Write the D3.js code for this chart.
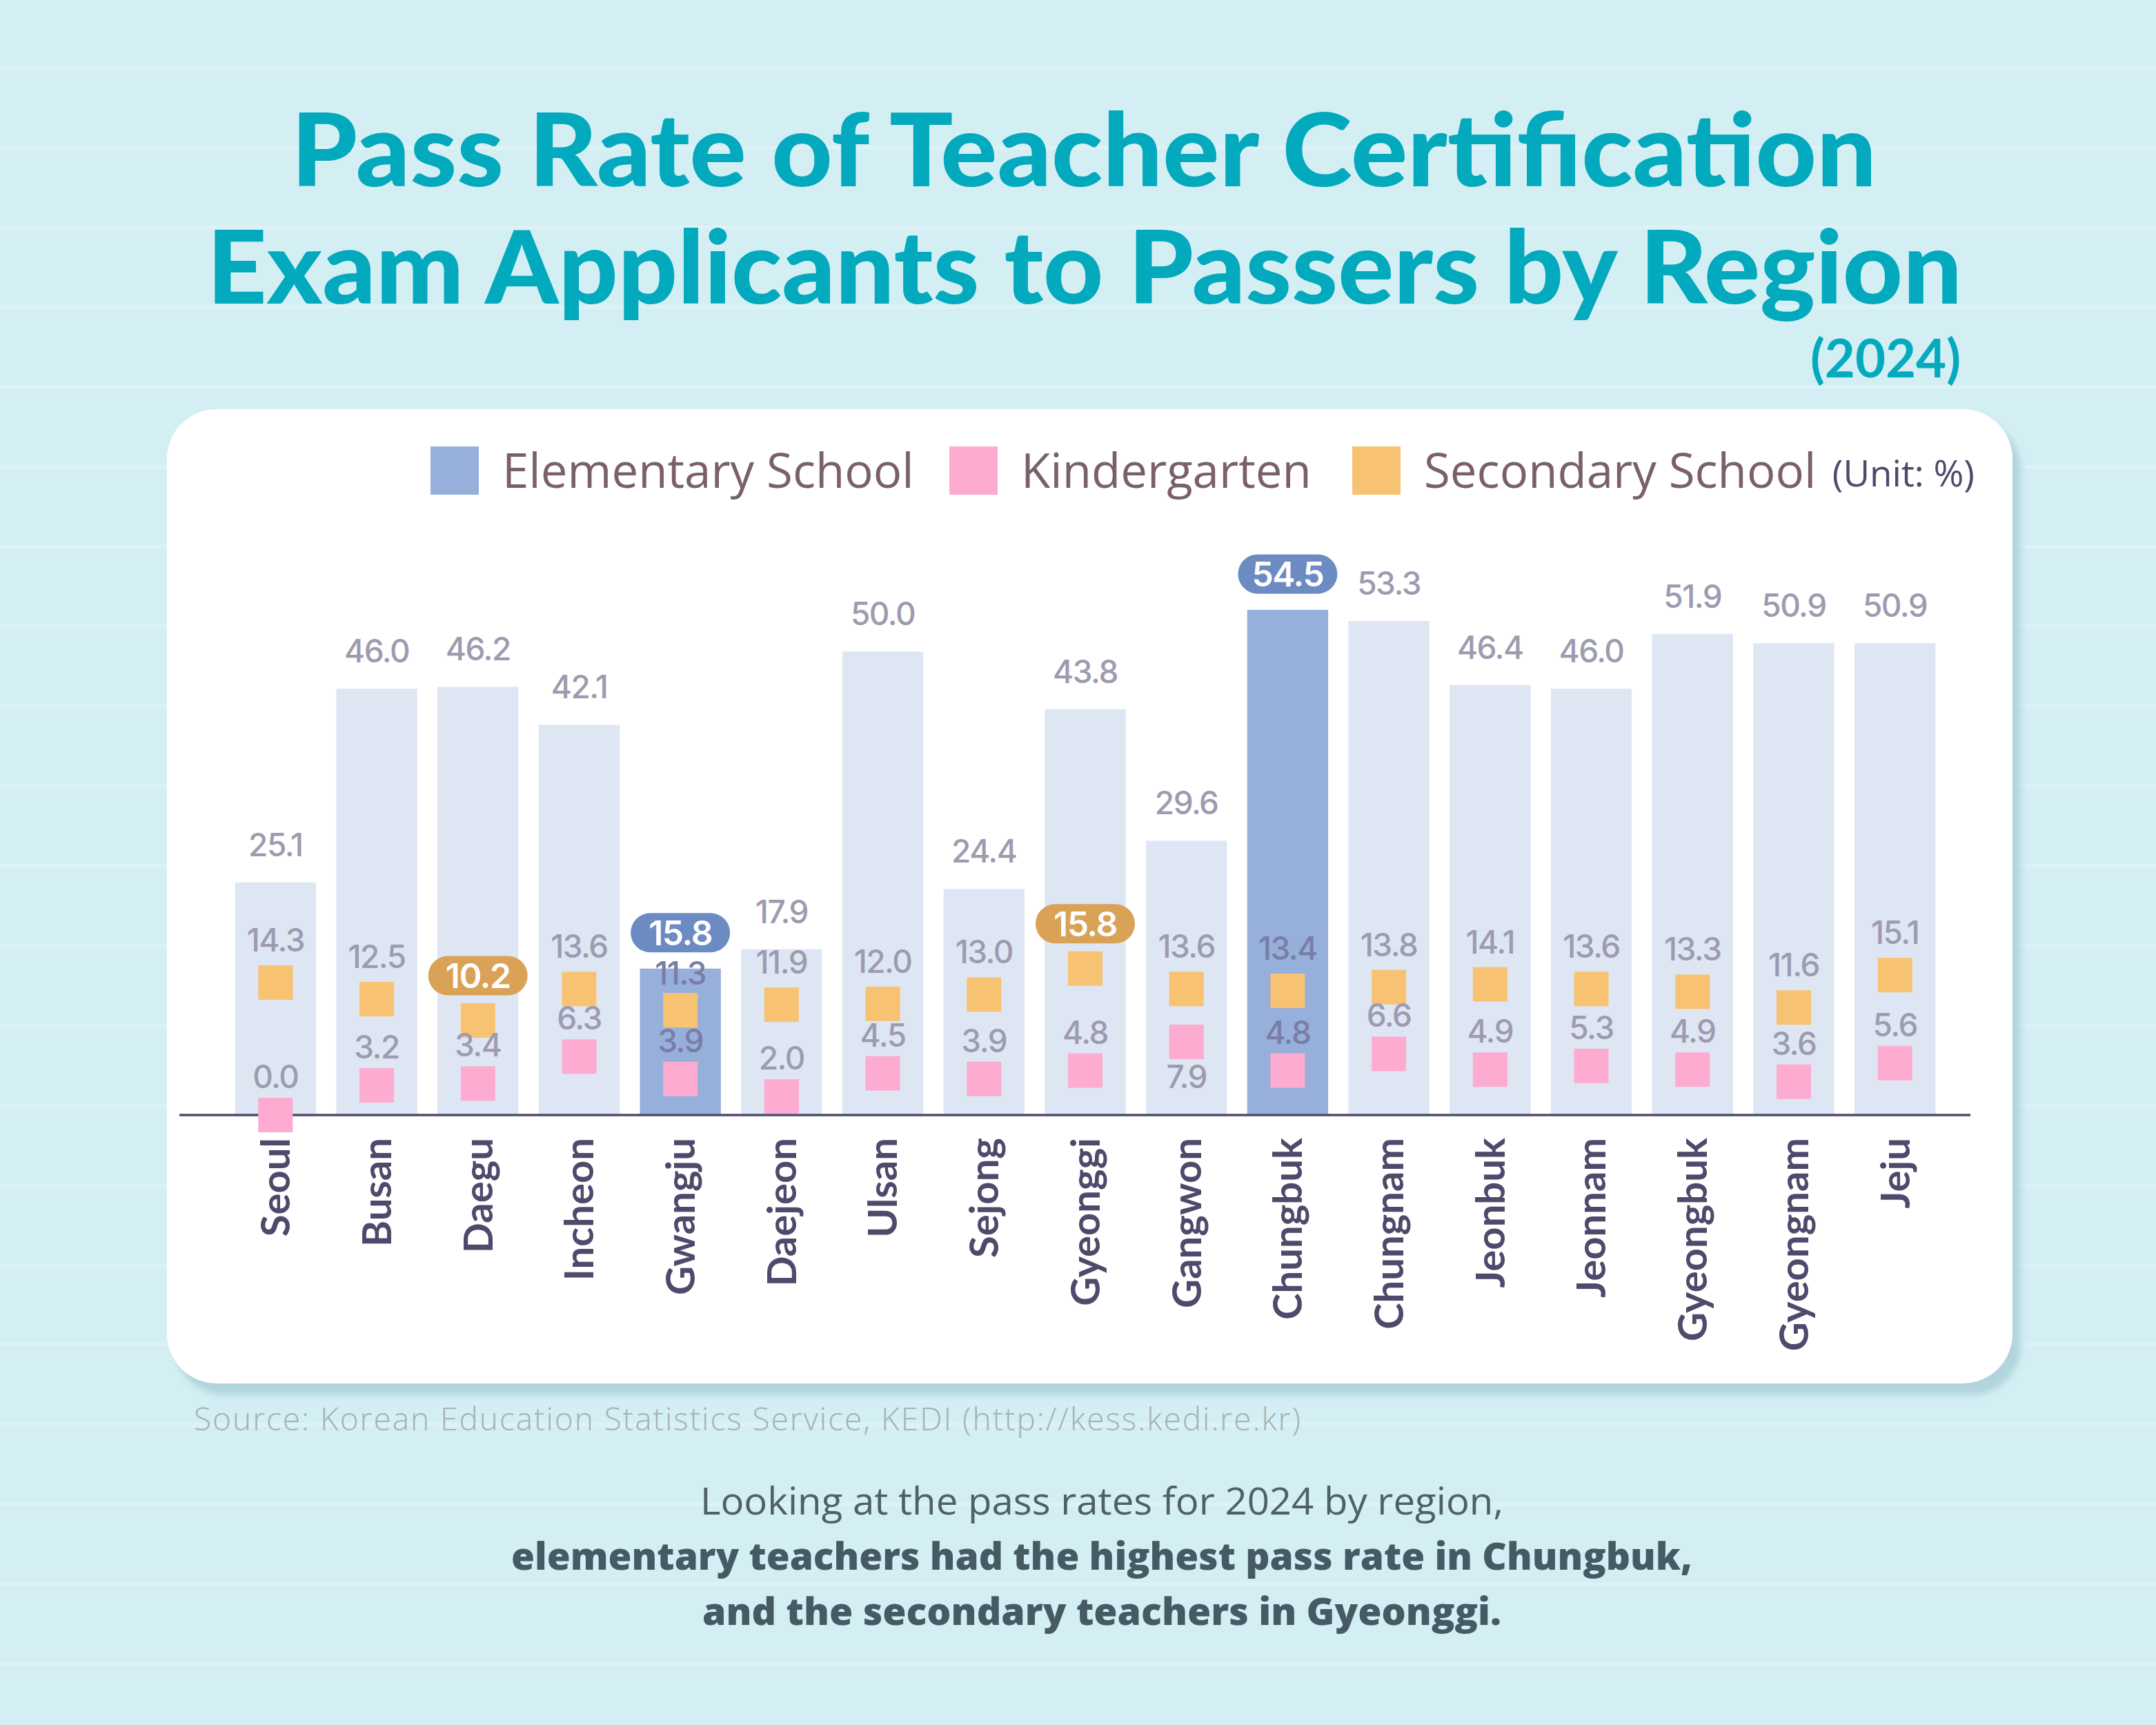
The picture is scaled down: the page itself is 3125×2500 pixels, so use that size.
<!DOCTYPE html>
<html>
<head>
<meta charset="utf-8">
<script src="https://cdn.jsdelivr.net/npm/d3@7"></script>
<style>
  html, body { margin: 0; padding: 0; background: #d3eff4; }
  svg { display: block; }
</style>
</head>
<body>
<svg id="chart"></svg>
<script>
const regions = ["Seoul", "Busan", "Daegu", "Incheon", "Gwangju", "Daejeon", "Ulsan", "Sejong", "Gyeonggi",
  "Gangwon", "Chungbuk", "Chungnam", "Jeonbuk", "Jeonnam", "Gyeongbuk", "Gyeongnam", "Jeju"];
const elementary = [25.1, 46.0, 46.2, 42.1, 15.8, 17.9, 50.0, 24.4, 43.8, 29.6, 54.5, 53.3, 46.4, 46.0, 51.9, 50.9, 50.9];
const kindergarten = [0.0, 3.2, 3.4, 6.3, 3.9, 2.0, 4.5, 3.9, 4.8, 7.9, 4.8, 6.6, 4.9, 5.3, 4.9, 3.6, 5.6];
const secondary = [14.3, 12.5, 10.2, 13.6, 11.3, 11.9, 12.0, 13.0, 15.8, 13.6, 13.4, 13.8, 14.1, 13.6, 13.3, 11.6, 15.1];
const legendItems = ["Elementary School", "Kindergarten", "Secondary School"];

const size = { width: 3125, height: 2500 };
const COLOR_BAR = "#dfe6f3";
const COLOR_BAR_HI = "#97afdb";
const COLOR_KIN = "#fdabd0";
const COLOR_SEC = "#f7c372";
const COLOR_PILL_EL = "#6d8bc3";
const COLOR_PILL_SEC = "#d9a257";
const COLOR_LABEL = "#9d9bb0";
const COLOR_LABEL_HI = "#787ea6";
const NUM_FONT = "Inter, 'Noto Sans', sans-serif";
const SANS = "Lato, 'Noto Sans', sans-serif";
const WIDE = "'Open Sans', 'Noto Sans', sans-serif";

const svg = d3.select("#chart").attr("width", size.width).attr("height", size.height);

// background paper with faint ruled lines
svg.append("rect").attr("width", size.width).attr("height", size.height).attr("fill", "#d3eff4");
d3.range(98, size.height, 115.7).forEach((ly) => {
  svg.append("line")
    .attr("x1", 0).attr("x2", size.width)
    .attr("y1", ly).attr("y2", ly)
    .attr("stroke", "#ffffff")
    .attr("stroke-opacity", 0.22)
    .attr("stroke-width", 6);
});

// title
svg.append("text")
  .text("Pass Rate of Teacher Certification")
  .attr("x", 1571).attr("y", 270)
  .attr("text-anchor", "middle")
  .attr("textLength", 2298).attr("lengthAdjust", "spacingAndGlyphs")
  .attr("font-family", SANS).attr("font-weight", 900).attr("font-size", 146)
  .attr("fill", "#03a9bd");
svg.append("text")
  .text("Exam Applicants to Passers by Region")
  .attr("x", 1572).attr("y", 440)
  .attr("text-anchor", "middle")
  .attr("textLength", 2544).attr("lengthAdjust", "spacingAndGlyphs")
  .attr("font-family", SANS).attr("font-weight", 900).attr("font-size", 146)
  .attr("fill", "#03a9bd");
svg.append("text")
  .text("(2024)")
  .attr("x", 2842).attr("y", 547)
  .attr("text-anchor", "end")
  .attr("font-family", SANS).attr("font-weight", 700).attr("font-size", 76)
  .attr("fill", "#05aabe");

// card with soft shadow
const defs = svg.append("defs");
defs.append("filter").attr("id", "blur").attr("x", "-5%").attr("y", "-5%").attr("width", "110%").attr("height", "110%")
  .append("feGaussianBlur").attr("stdDeviation", 5);
svg.append("rect")
  .attr("x", 254).attr("y", 608).attr("width", 2675).attr("height", 1414).attr("rx", 72)
  .attr("fill", "#a9cfd6").attr("opacity", 0.8).attr("filter", "url(#blur)");
svg.append("rect")
  .attr("x", 242).attr("y", 593).attr("width", 2675).attr("height", 1412).attr("rx", 72)
  .attr("fill", "#ffffff");

// legend
const legendColors = [COLOR_BAR_HI, COLOR_KIN, COLOR_SEC];
const legendX = [624, 1376, 1960];
const legend = svg.append("g");
legendItems.forEach((name, i) => {
  legend.append("rect")
    .attr("x", legendX[i]).attr("y", 647).attr("width", 70).attr("height", 70)
    .attr("fill", legendColors[i]);
  legend.append("text")
    .text(name)
    .attr("x", legendX[i] + 104).attr("y", 707)
    .attr("font-family", WIDE).attr("font-weight", 500).attr("font-size", 69)
    .attr("fill", "#7a6069");
});
legend.append("text")
  .text("(Unit: %)")
  .attr("x", 2862).attr("y", 705)
  .attr("text-anchor", "end")
  .attr("font-family", WIDE).attr("font-weight", 400).attr("font-size", 53)
  .attr("fill", "#4f4a6c");

// scales
const x = d3.scaleBand().domain(regions).range([326, 2820]).paddingInner(0.2).paddingOuter(0.1);
const y = d3.scaleLinear().domain([0, 60]).range([1616, 810]);
const cx = (d) => x(d) + x.bandwidth() / 2;

const elMax = d3.maxIndex(elementary), elMin = d3.minIndex(elementary);
const secMax = d3.maxIndex(secondary), secMin = d3.minIndex(secondary);
const isHiBar = (i) => i === elMax || i === elMin;
const PILL_H = 57;
const elPillY = (v) => y(v) - 52;
const secPillY = (v) => y(v) - 65;

const rows = regions.map((region, i) => ({
  region, i, el: elementary[i], kin: kindergarten[i], sec: secondary[i]
}));

// elementary bars
svg.append("g")
  .selectAll("rect")
  .data(rows)
  .enter()
  .append("rect")
  .attr("x", (d) => x(d.region))
  .attr("width", x.bandwidth())
  .attr("y", (d) => y(d.el))
  .attr("height", (d) => y(0) - y(d.el))
  .attr("fill", (d) => (isHiBar(d.i) ? COLOR_BAR_HI : COLOR_BAR));

// baseline
svg.append("line")
  .attr("x1", x.range()[0] - 66).attr("x2", x.range()[1] + 36)
  .attr("y1", y(0)).attr("y2", y(0))
  .attr("stroke", "#4f4a6c").attr("stroke-width", 3.5);

const fmt = d3.format(".1f");
const SQ = 50;

// kindergarten + secondary squares
const marks = svg.append("g");
marks.selectAll(".sec")
  .data(rows)
  .enter()
  .append("rect")
  .attr("x", (d) => cx(d.region) - SQ / 2)
  .attr("y", (d) => y(d.sec) - SQ / 2)
  .attr("width", SQ).attr("height", SQ)
  .attr("fill", COLOR_SEC);
marks.selectAll(".kin")
  .data(rows)
  .enter()
  .append("rect")
  .attr("x", (d) => cx(d.region) - SQ / 2)
  .attr("y", (d) => y(d.kin) - SQ / 2)
  .attr("width", SQ).attr("height", SQ)
  .attr("fill", COLOR_KIN);

// value labels
const labels = svg.append("g")
  .attr("font-family", NUM_FONT)
  .attr("font-weight", 500)
  .attr("font-size", 46)
  .attr("letter-spacing", -1.5)
  .attr("text-anchor", "middle");

rows.forEach((d) => {
  const col = isHiBar(d.i) ? COLOR_LABEL_HI : COLOR_LABEL;
  if (!isHiBar(d.i)) {
    labels.append("text").text(fmt(d.el))
      .attr("x", cx(d.region)).attr("y", y(d.el) - 38).attr("fill", COLOR_LABEL);
  }
  if (d.i !== secMax && d.i !== secMin) {
    let ly = y(d.sec) - SQ / 2 - 20;
    // keep clear of the elementary pill when it sits just above
    if (isHiBar(d.i)) ly = Math.max(ly, elPillY(d.el) + PILL_H / 2 + 47);
    labels.append("text").text(fmt(d.sec))
      .attr("x", cx(d.region)).attr("y", ly).attr("fill", col);
  }
  const gap = (y(d.kin) - SQ / 2) - (y(d.sec) + SQ / 2);
  const below = gap < 40;
  labels.append("text").text(fmt(d.kin))
    .attr("x", cx(d.region))
    .attr("y", below ? y(d.kin) + SQ / 2 + 42 : y(d.kin) - SQ / 2 - 14)
    .attr("fill", col);
});

// highlight pills
const pills = svg.append("g");
function pill(xc, yc, value, color) {
  pills.append("rect")
    .attr("x", xc - 72).attr("y", yc - PILL_H / 2)
    .attr("width", 144).attr("height", PILL_H).attr("rx", PILL_H / 2)
    .attr("fill", color);
  pills.append("text")
    .text(fmt(value))
    .attr("x", xc).attr("y", yc + 18)
    .attr("text-anchor", "middle")
    .attr("font-family", NUM_FONT).attr("font-weight", 600).attr("font-size", 50)
    .attr("letter-spacing", -1.5)
    .attr("fill", "#ffffff");
}
[elMax, elMin].forEach((i) => pill(cx(regions[i]), elPillY(elementary[i]), elementary[i], COLOR_PILL_EL));
[secMax, secMin].forEach((i) => pill(cx(regions[i]), secPillY(secondary[i]), secondary[i], COLOR_PILL_SEC));

// region labels
svg.append("g")
  .selectAll("text")
  .data(regions)
  .enter()
  .append("text")
  .text((d) => d)
  .attr("transform", (d) => `translate(${cx(d)}, ${y(0) + 33}) rotate(-90)`)
  .attr("text-anchor", "end")
  .attr("dy", "0.36em")
  .attr("font-family", SANS)
  .attr("font-weight", 700)
  .attr("font-size", 58)
  .attr("fill", "#4f4a6c");

// source + note
svg.append("text")
  .text("Source: Korean Education Statistics Service, KEDI (http://kess.kedi.re.kr)")
  .attr("x", 281).attr("y", 2073)
  .attr("textLength", 1604).attr("lengthAdjust", "spacing")
  .attr("font-family", WIDE).attr("font-weight", 300).attr("font-size", 46)
  .attr("fill", "#a7b0b4");

const note = [
  { t: "Looking at the pass rates for 2024 by region,", w: 400, c: "#4f6068", len: 1164 },
  { t: "elementary teachers had the highest pass rate in Chungbuk,", w: 800, c: "#465a63", len: 1712 },
  { t: "and the secondary teachers in Gyeonggi.", w: 800, c: "#465a63", len: 1158 }
];
note.forEach((n, i) => {
  svg.append("text")
    .text(n.t)
    .attr("x", 1597).attr("y", 2195 + i * 80)
    .attr("text-anchor", "middle")
    .attr("textLength", n.len).attr("lengthAdjust", "spacingAndGlyphs")
    .attr("font-family", WIDE)
    .attr("font-weight", n.w).attr("font-size", 55)
    .attr("fill", n.c);
});
</script>
</body>
</html>
